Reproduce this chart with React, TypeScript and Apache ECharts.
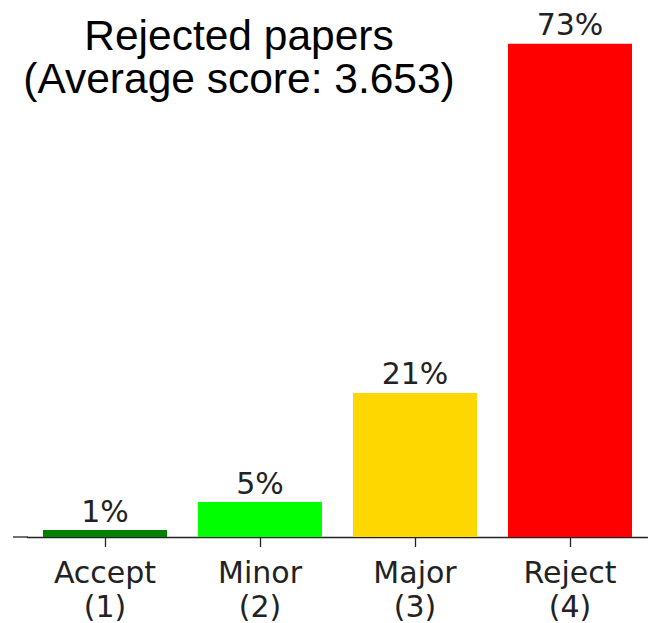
import React, { useEffect, useRef } from "react";
import * as echarts from "echarts";

const categories = ["Accept", "Minor", "Major", "Reject"];
const scores = ["(1)", "(2)", "(3)", "(4)"];
const percents = [1.03, 5.15, 21.2, 72.6];
const colors = ["#008000", "#00ff00", "#ffd700", "#ff0000"];
const titleLines = ["Rejected papers", "(Average score: 3.653)"];

export default function App() {
  const ref = useRef<HTMLDivElement>(null);
  useEffect(() => {
    if (!ref.current) return;
    const chart = echarts.init(ref.current, null, { renderer: "svg" });
    const gridTop = 20;
    const gridBottom = 86;
    const axisY = 623 - gridBottom;
    chart.setOption({
      animation: false,
      backgroundColor: "#ffffff",
      grid: { left: 27.5, right: 0.5, top: gridTop, bottom: gridBottom, containLabel: false },
      xAxis: {
        type: "category",
        data: categories.map((c, i) => c + "\n" + scores[i]),
        axisLine: { show: true, lineStyle: { color: "#222", width: 1.3 } },
        axisTick: { show: true, alignWithLabel: true, length: 10, lineStyle: { color: "#222", width: 1.3 } },
        axisLabel: {
          color: "#222",
          fontFamily: "DejaVu Sans",
          fontSize: 30,
          lineHeight: 34,
          margin: 18,
          interval: 0,
        },
      },
      yAxis: {
        type: "value",
        min: 0,
        max: 76.1,
        show: false,
        splitLine: { show: false },
      },
      series: [
        {
          type: "bar",
          barWidth: "80%",
          data: percents.map((v, i) => ({ value: v, itemStyle: { color: colors[i] } })),
          label: {
            show: true,
            position: "top",
            distance: 4,
            color: "#222",
            fontFamily: "DejaVu Sans",
            fontSize: 30,
            formatter: (p: any) => Math.round(p.value) + "%",
          },
        },
      ],
      graphic: [
        {
          type: "line",
          shape: { x1: 13, y1: axisY, x2: 28, y2: axisY },
          style: { stroke: "#222", lineWidth: 1.3 },
          silent: true,
        },
        {
          type: "text",
          x: 239,
          y: 14,
          style: {
            text: titleLines.join("\n"),
            font: "42.5px 'Liberation Sans', Arial, sans-serif",
            fill: "#000",
            align: "center",
            verticalAlign: "top",
            lineHeight: 43,
          },
        },
      ],
    });
    return () => chart.dispose();
  }, []);
  return (
    <div
      ref={ref}
      style={{ position: "fixed", left: 0, top: 0, width: 648, height: 623 }}
    />
  );
}
